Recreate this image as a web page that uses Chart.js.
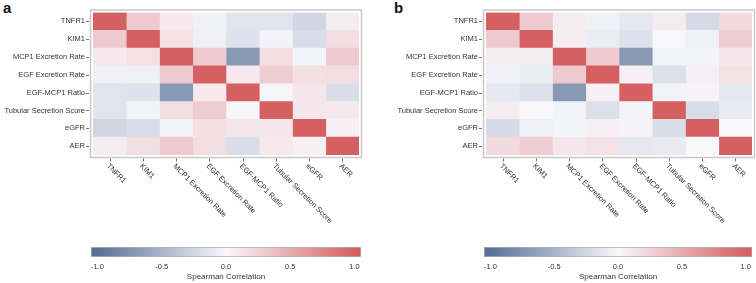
<!DOCTYPE html>
<html>
<head>
<meta charset="utf-8">
<script src="https://cdn.jsdelivr.net/npm/chart.js@4"></script>
<style>
  body { margin: 0; background: #fff; }
  #wrap { position: relative; width: 756px; height: 283px; overflow: hidden; }
  canvas { position: absolute; }
  .tag { position: absolute; font: bold 15px "Liberation Sans", Arial, sans-serif; color: #111; }
</style>
</head>
<body>
<div id="wrap">
  <div class="tag" style="left:3px;top:-1px">a</div>
  <div class="tag" style="left:394px;top:-1px">b</div>
  <canvas id="heatA" style="left:0;top:0"></canvas>
  <canvas id="heatB" style="left:378px;top:0"></canvas>
  <canvas id="barA" style="left:0;top:240px"></canvas>
  <canvas id="barB" style="left:378px;top:240px"></canvas>
</div>
<script>
// variables, same order on both axes
const varNames = ['TNFR1', 'KIM1', 'MCP1 Excretion Rate', 'EGF Excretion Rate',
  'EGF-MCP1 Ratio', 'Tubular Secretion Score', 'eGFR', 'AER'];

// panel a, Spearman correlations (rows follow varNames)
const corrA = [
  [1.00, 0.30, 0.10, -0.05, -0.15, -0.15, -0.25, 0.08],
  [0.30, 1.00, 0.15, -0.06, -0.16, -0.04, -0.20, 0.18],
  [0.10, 0.15, 1.00, 0.30, -0.70, 0.18, -0.04, 0.30],
  [-0.05, -0.06, 0.30, 1.00, 0.10, 0.28, 0.16, 0.18],
  [-0.15, -0.16, -0.70, 0.10, 1.00, -0.02, 0.12, -0.20],
  [-0.15, -0.04, 0.18, 0.28, -0.02, 1.00, 0.12, 0.10],
  [-0.25, -0.20, -0.04, 0.16, 0.12, 0.12, 1.00, 0.05],
  [0.08, 0.18, 0.30, 0.18, -0.20, 0.10, 0.05, 1.00]
];

// panel b
const corrB = [
  [1.00, 0.30, 0.08, -0.05, -0.12, 0.08, -0.22, 0.20],
  [0.30, 1.00, 0.08, -0.08, -0.17, 0.00, -0.06, 0.28],
  [0.08, 0.08, 1.00, 0.30, -0.70, -0.04, -0.03, 0.12],
  [-0.05, -0.08, 0.30, 1.00, 0.06, -0.18, 0.05, 0.15],
  [-0.12, -0.17, -0.70, 0.06, 1.00, -0.04, 0.04, -0.12],
  [0.08, 0.00, -0.04, -0.18, -0.04, 1.00, -0.20, -0.10],
  [-0.22, -0.06, -0.03, 0.05, 0.04, -0.20, 1.00, 0.00],
  [0.20, 0.28, 0.12, 0.15, -0.12, -0.10, 0.00, 1.00]
];

// colour bar
const cbarTicks = [-1, -0.5, 0, 0.5, 1];
const cbarRange = [-1.05, 1.05];

const FONT = '"Liberation Sans", Arial, sans-serif';
const TXT = '#333';

const cLow = [88, 112, 152], cMid = [248, 248, 252], cHigh = [213, 96, 98];
function corrColor(v) {
  const t = Math.min(1, Math.abs(v));
  const end = v < 0 ? cLow : cHigh;
  return 'rgb(' + cMid.map((m, k) => Math.round(m + (end[k] - m) * t)).join(',') + ')';
}

const heatDecor = {
  id: 'heatDecor',
  afterDraw(chart) {
    const { ctx, chartArea: a, scales } = chart;
    ctx.save();
    ctx.strokeStyle = '#c8c8c8';
    ctx.lineWidth = 1.5;
    ctx.strokeRect(a.left - 2.5, a.top - 2.5, a.right - a.left + 5, a.bottom - a.top + 5);
    ctx.strokeStyle = '#777';
    ctx.lineWidth = 1;
    ctx.beginPath();
    varNames.forEach((n, i) => {
      const py = Math.round(scales.y.getPixelForValue(i)) + 0.5;
      ctx.moveTo(a.left - 7, py); ctx.lineTo(a.left - 4, py);
      const px = Math.round(scales.x.getPixelForValue(i + 0.5)) + 0.5;
      ctx.moveTo(px, a.bottom + 3.5); ctx.lineTo(px, a.bottom + 6.5);
    });
    ctx.stroke();
    ctx.fillStyle = TXT;
    ctx.font = '7.5px ' + FONT;
    ctx.textAlign = 'left';
    ctx.textBaseline = 'middle';
    varNames.forEach((n, i) => {
      const px = scales.x.getPixelForValue(i + 0.5);
      ctx.save();
      ctx.translate(px - 2, a.bottom + 10);
      ctx.rotate(Math.PI / 4);
      ctx.fillText(n, 0, 0);
      ctx.restore();
    });
    ctx.restore();
  }
};

function makeHeat(id, corr, axisWidth, rightPad) {
  const el = document.getElementById(id);
  el.width = 378; el.height = 240;
  el.style.width = '378px'; el.style.height = '240px';
  // one stacked dataset per column, one bar per row
  const datasets = varNames.map((c, j) => ({
    label: c,
    data: varNames.map(() => 1),
    backgroundColor: corr.map(row => corrColor(row[j])),
    borderWidth: 0,
    barPercentage: 1,
    categoryPercentage: 1
  }));
  new Chart(el, {
    type: 'bar',
    data: { labels: varNames, datasets },
    options: {
      indexAxis: 'y',
      responsive: false,
      animation: false,
      events: [],
      layout: { padding: { top: 4, right: rightPad, bottom: 85, left: 0 } },
      plugins: { legend: { display: false }, tooltip: { enabled: false } },
      scales: {
        x: { display: false, stacked: true, min: 0, max: varNames.length },
        y: {
          stacked: true,
          grid: { display: false, drawTicks: false },
          border: { display: false },
          ticks: { autoSkip: false, padding: 8, color: TXT, font: { family: FONT, size: 7.5 } },
          afterFit(s) { s.width = axisWidth; }
        }
      }
    },
    plugins: [heatDecor]
  });
}

function makeBar(id, leftPad, rightPad) {
  const el = document.getElementById(id);
  el.width = 378; el.height = 43;
  el.style.width = '378px'; el.style.height = '43px';
  new Chart(el, {
    type: 'bar',
    data: {
      labels: ['r'],
      datasets: [{
        data: [cbarRange],
        barPercentage: 1,
        categoryPercentage: 1,
        borderWidth: 1,
        borderColor: '#b0b0b0',
        borderSkipped: false,
        backgroundColor(ctx) {
          const ch = ctx.chart;
          if (!ch.chartArea) return '#fff';
          const xs = ch.scales.x;
          const g = ch.ctx.createLinearGradient(xs.getPixelForValue(-1), 0, xs.getPixelForValue(1), 0);
          for (let k = 0; k <= 20; k++) {
            const v = -1 + k / 10;
            g.addColorStop(k / 20, corrColor(v));
          }
          return g;
        }
      }]
    },
    options: {
      indexAxis: 'y',
      responsive: false,
      animation: false,
      events: [],
      layout: { padding: { top: 7, right: rightPad, bottom: 0, left: leftPad } },
      plugins: { legend: { display: false }, tooltip: { enabled: false } },
      scales: {
        y: { display: false },
        x: {
          min: cbarRange[0], max: cbarRange[1],
          grid: { display: false, drawTicks: false },
          border: { display: false },
          afterBuildTicks(s) { s.ticks = cbarTicks.map(v => ({ value: v })); },
          ticks: {
            padding: 5, color: TXT, font: { family: FONT, size: 7.5 },
            callback: v => v.toFixed(1)
          },
          title: {
            display: true, text: 'Spearman Correlation', color: TXT,
            font: { family: FONT, size: 8 }, padding: { top: 2, bottom: 1 }
          },
          afterFit(s) { s.height = 26; }
        }
      }
    }
  });
}

makeHeat('heatA', corrA, 93, 19);
makeHeat('heatB', corrB, 108, 4);
makeBar('barA', 91, 17);
makeBar('barB', 106, 1.5);
</script>
</body>
</html>
